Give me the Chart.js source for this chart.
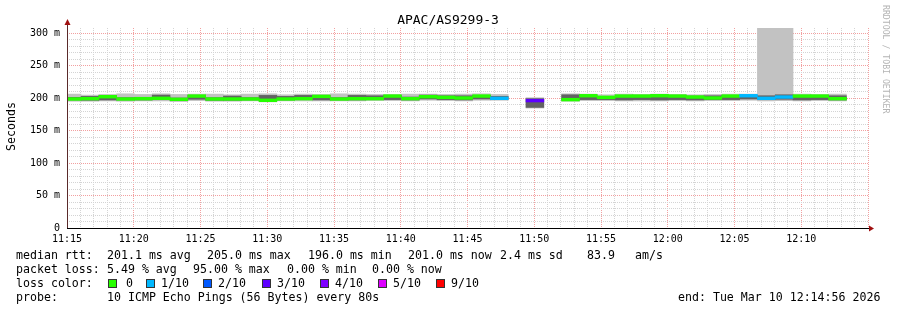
<!DOCTYPE html>
<html><head><meta charset="utf-8">
<script src="https://cdn.jsdelivr.net/npm/chart.js@4/dist/chart.umd.min.js"></script>
<style>html,body{margin:0;padding:0;background:#fff;overflow:hidden}canvas{display:block}</style>
</head><body>
<canvas id="c" width="897" height="310"></canvas>
<script>
// ---- data (80 s bins, start time of each bin) ----
const binStart = ["11:14:43","11:16:03","11:17:23","11:18:43","11:20:03","11:21:23","11:22:43","11:24:03","11:25:23","11:26:43",
  "11:28:03","11:29:23","11:30:43","11:32:03","11:33:23","11:34:43","11:36:03","11:37:23","11:38:43","11:40:03",
  "11:41:23","11:42:43","11:44:03","11:45:23","11:46:43","11:48:03","11:49:23","11:50:43","11:52:03","11:53:23",
  "11:54:43","11:56:03","11:57:23","11:58:43","12:00:03","12:01:23","12:02:43","12:04:03","12:05:23","12:06:43",
  "12:08:03","12:09:23","12:10:43","12:12:03"];
const medianMs = [198.5,199,202,198.5,199,199.5,198,203,198.5,198.5,
  198.5,196.5,198.5,199,202.5,198.5,199,199,203,199,
  202,201,200,203,199.5,null,196,null,197.5,203.5,
  201,203,203,203.5,203,201.5,200,203,203.5,199.5,
  201.5,203,203,199];
const lossCount = [0,0,0,0,0,0,0,0,0,0,
  0,0,0,0,0,0,0,0,0,0,
  0,0,0,0,1,null,3,null,0,0,
  0,0,0,0,0,0,0,0,1,1,
  1,0,0,0];
const smokeLo = [195,195,195.5,195,195.5,195.5,194.5,196,195,195,
  195.5,194,195.5,195.5,195.5,195.5,195.5,196,196,195.5,
  196.5,196,195.5,196.5,196.5,null,184.5,null,195,196,
  196,195.5,195.5,195.5,196,195.5,196,196,196.5,195.5,
  196,195.5,196,195.5];
const smokeHi = [206,204.5,205.5,206.5,205.5,206.5,205.5,206,206,205,
  206,206.5,205,206,205.5,206.5,206,205.5,205.5,206,
  206,205.5,206,206.5,205.5,null,200.5,null,206.5,206,
  205,206,205.5,206,205.5,205,205.5,206,206,320,
  320,206,205.5,206];
const coreLo = [197,196.5,197,197,197,197.5,196.5,198,196.5,196.5,
  197,196,197,197.5,197,197,197,197.5,197.5,197,
  198.5,197.5,197,198.5,198,null,185.5,null,196.5,197.5,
  197.5,197,197.5,197,197.5,197,197.5,197.5,198.5,197.5,
  198,197,197.5,197];
const coreHi = [201,202.5,203.5,200.5,201,204.5,200,204,200.5,203,
  200.5,204,202.5,204,204,200.5,204,203.5,204,201.5,
  204.5,203.5,203.5,204,202.5,null,199,null,205,203.5,
  202.5,201.5,201,204.5,204,203,203.5,204,203.5,203.5,
  205,204,203.5,203.5];
const lossLegend = ["0","1/10","2/10","3/10","4/10","5/10","9/10"];
const lossLegendCount = [0,1,2,3,4,5,9];
const lossColors = {0:"#26ff00",1:"#00b8ff",2:"#0059ff",3:"#5e00ff",4:"#7e00ff",5:"#dd00ff",9:"#ff0000"};
const xTickLabels = ["11:15","11:20","11:25","11:30","11:35","11:40","11:45","11:50","11:55","12:00","12:05","12:10"];
const yTickValues = [0,50,100,150,200,250,300];
const yTickLabels = ["0","50 m","100 m","150 m","200 m","250 m","300 m"];
const title = "APAC/AS9299-3";
const statLine1 = ["median rtt:","201.1 ms avg","205.0 ms max","196.0 ms min","201.0 ms now","2.4 ms sd","83.9","am/s"];
const statLine2 = ["packet loss:","5.49 % avg","95.00 % max","0.00 % min","0.00 % now"];
const probeLine = ["probe:","10 ICMP Echo Pings (56 Bytes) every 80s"];
const endLabel = "end: Tue Mar 10 12:14:56 2026";

// ---- helpers ----
const T0 = 11*3600 + 15*60;
const toSec = s => { const p = s.split(":").map(Number); return p[0]*3600 + p[1]*60 + p[2] - T0; };
const BIN = 80;
const band = (lo, hi) => binStart.map((t,i) => medianMs[i] == null ? null : {x: toSec(t) + BIN/2, y: [lo[i], hi[i]]}).filter(Boolean);
const MED_HALF = 2.1;
const medLo = medianMs.map(m => m == null ? null : m - MED_HALF);
const medHi = medianMs.map(m => m == null ? null : m + MED_HALF);
const medColors = lossCount.filter(l => l != null).map(l => lossColors[l]);

const FONT = "'DejaVu Sans Mono', monospace";
const barBase = {type:'bar', grouped:false, barPercentage:1, categoryPercentage:1, borderWidth:0, clip:0};

const decor = {
  id:'decor',
  afterDraw(chart){
    const ctx = chart.ctx, a = chart.chartArea;
    ctx.save();
    // axes
    ctx.lineWidth = 1;
    ctx.strokeStyle = '#000';
    ctx.beginPath(); ctx.moveTo(a.left, a.bottom + 0.5); ctx.lineTo(a.right + 3, a.bottom + 0.5); ctx.stroke();
    ctx.strokeStyle = '#5a2a2a';
    ctx.beginPath(); ctx.moveTo(a.left + 0.5, a.bottom); ctx.lineTo(a.left + 0.5, a.top - 5); ctx.stroke();
    ctx.fillStyle = '#a01010';
    ctx.beginPath(); ctx.moveTo(a.left - 2.5, a.top - 3); ctx.lineTo(a.left + 3.5, a.top - 3); ctx.lineTo(a.left + 0.5, a.top - 9); ctx.closePath(); ctx.fill();
    ctx.beginPath(); ctx.moveTo(a.right + 1, a.bottom - 2.5); ctx.lineTo(a.right + 1, a.bottom + 3.5); ctx.lineTo(a.right + 6, a.bottom + 0.5); ctx.closePath(); ctx.fill();
    // title
    ctx.fillStyle = '#000';
    ctx.font = '13px ' + FONT;
    ctx.textAlign = 'center'; ctx.textBaseline = 'alphabetic';
    ctx.fillText(title, 448, 24);
    // y title
    ctx.save();
    ctx.translate(15, 126.5); ctx.rotate(-Math.PI/2);
    ctx.font = '11.6px ' + FONT;
    ctx.fillText('Seconds', 0, 0);
    ctx.restore();
    // watermark
    ctx.save();
    ctx.translate(883, 5); ctx.rotate(Math.PI/2);
    ctx.font = '8.2px ' + FONT; ctx.fillStyle = '#b4b4b4'; ctx.textAlign = 'left';
    ctx.fillText('RRDTOOL / TOBI OETIKER', 0, 0);
    ctx.restore();
    // legend
    ctx.font = '11.6px ' + FONT; ctx.textAlign = 'left'; ctx.fillStyle = '#000';
    const x1 = [16,107,207,308,408,500,587,635];
    statLine1.forEach((s,i) => ctx.fillText(s, x1[i], 259));
    const x2 = [16,107,193,287,372];
    statLine2.forEach((s,i) => ctx.fillText(s, x2[i], 273));
    ctx.fillText('loss color:', 16, 287);
    const bx = [108,146,203,262,320,378,436];
    lossLegend.forEach((s,i) => {
      ctx.fillStyle = lossColors[lossLegendCount[i]];
      ctx.fillRect(bx[i], 279, 8, 8);
      ctx.strokeStyle = '#333'; ctx.lineWidth = 1;
      ctx.strokeRect(bx[i] + 0.5, 279.5, 8, 8);
      ctx.fillStyle = '#000';
      ctx.fillText(s, bx[i] + (i === 0 ? 18 : 15), 287);
    });
    ctx.fillText(probeLine[0], 16, 301);
    ctx.fillText(probeLine[1], 107, 301);
    ctx.fillText(endLabel, 678, 301);
    ctx.restore();
  }
};

new Chart(document.getElementById('c'), {
  data: {
    datasets: [
      Object.assign({}, barBase, {label:'median', order:0, data: band(medLo, medHi), backgroundColor: medColors}),
      Object.assign({}, barBase, {label:'core', order:1, data: band(coreLo, coreHi), backgroundColor: '#626262'}),
      Object.assign({}, barBase, {label:'smoke', order:2, data: band(smokeLo, smokeHi), backgroundColor: '#c2c2c2'})
    ]
  },
  options: {
    responsive:false, animation:false, devicePixelRatio:1,
    layout:{padding:{left:0, top:28, right:29, bottom:0}},
    plugins:{legend:{display:false}, tooltip:{enabled:false}, title:{display:false}},
    scales:{
      x:{type:'linear', position:'bottom', min:0, max:3600, weight:1, offset:false,
        afterFit: s => { s.height = 82; },
        border:{display:false, dash:[1,1]},
        grid:{drawTicks:false, offset:false, color:'#f2a0a0', lineWidth:1},
        ticks:{stepSize:300, autoSkip:false, maxRotation:0, padding:5, color:'#000', font:{family:FONT, size:10},
          includeBounds:false,
          callback: v => { const k = Math.round(v/300); return (v % 300 === 0 && k < xTickLabels.length) ? xTickLabels[k] : ''; }}
      },
      xm:{type:'linear', position:'bottom', min:0, max:3600, weight:0, offset:false,
        afterFit: s => { s.height = 0; },
        border:{display:false, dash:[1,1]},
        grid:{drawTicks:false, offset:false, color: c => (c.tick && c.tick.value % 300 === 0) ? 'rgba(0,0,0,0)' : '#d4d4d4', lineWidth:1},
        ticks:{display:false, stepSize:60, autoSkip:false, includeBounds:false}
      },
      y:{type:'linear', position:'left', min:0, max:307.7,
        afterFit: s => { s.width = 67; },
        border:{display:false, dash:[1,1]},
        grid:{drawTicks:false, color: c => (c.tick && c.tick.value % 50 === 0) ? '#f2a0a0' : '#d4d4d4', lineWidth:1},
        ticks:{stepSize:10, autoSkip:false, includeBounds:false, padding:7, color:'#000', font:{family:FONT, size:10},
          callback: v => { const k = yTickValues.indexOf(v); return k >= 0 ? yTickLabels[k] : ''; }}
      }
    }
  },
  plugins:[decor]
});
</script>
</body></html>
